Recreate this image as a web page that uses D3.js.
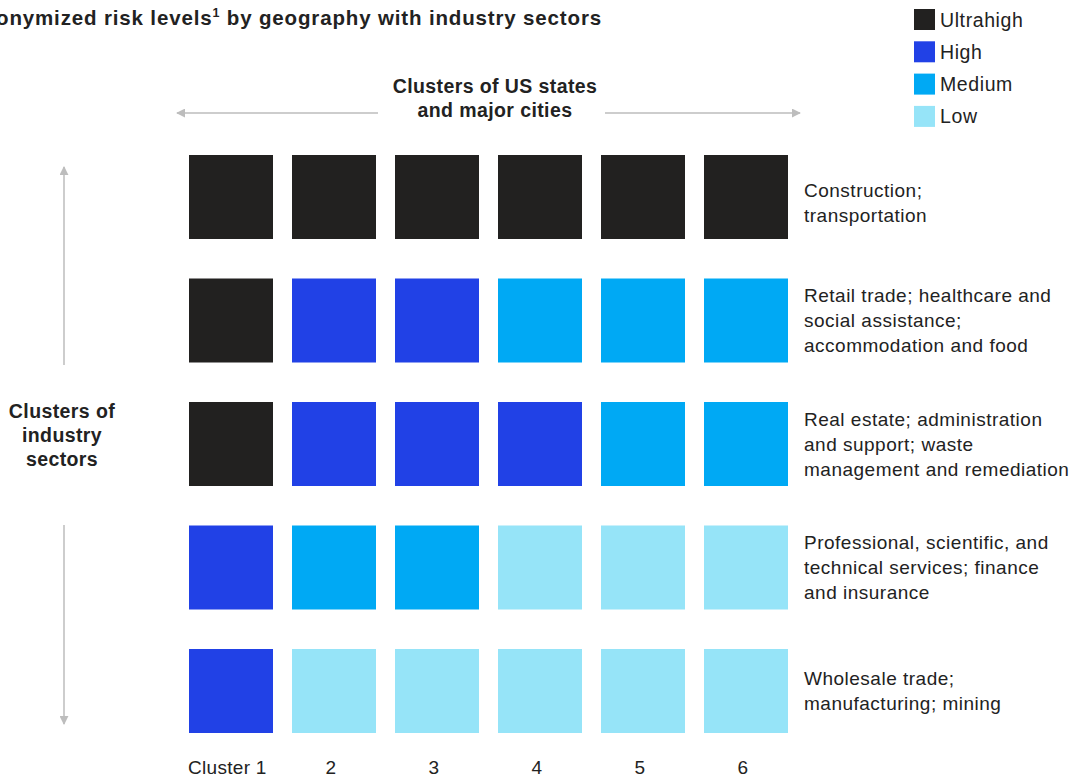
<!DOCTYPE html>
<html>
<head>
<meta charset="utf-8">
<script src="https://cdn.jsdelivr.net/npm/d3@7"></script>
<style>
  html, body { margin: 0; padding: 0; background: #fff; }
  svg { display: block; font-family: "Liberation Sans", Arial, sans-serif; }
</style>
</head>
<body>
<svg id="chart" width="1091" height="778"></svg>
<script>
// Geography clusters (columns) and industry-sector clusters (rows)
const geoClusters = ["Cluster 1", "2", "3", "4", "5", "6"];
const sectorClusters = [
  ["Construction;", "transportation"],
  ["Retail trade; healthcare and", "social assistance;", "accommodation and food"],
  ["Real estate; administration", "and support; waste", "management and remediation"],
  ["Professional, scientific, and", "technical services; finance", "and insurance"],
  ["Wholesale trade;", "manufacturing; mining"]
];

// Risk level per sector cluster (row) across geography clusters 1–6
const riskConstruction = ["Ultrahigh", "Ultrahigh", "Ultrahigh", "Ultrahigh", "Ultrahigh", "Ultrahigh"];
const riskRetail       = ["Ultrahigh", "High", "High", "Medium", "Medium", "Medium"];
const riskRealEstate   = ["Ultrahigh", "High", "High", "High", "Medium", "Medium"];
const riskProfessional = ["High", "Medium", "Medium", "Low", "Low", "Low"];
const riskWholesale    = ["High", "Low", "Low", "Low", "Low", "Low"];
const riskRows = [riskConstruction, riskRetail, riskRealEstate, riskProfessional, riskWholesale];

const riskLevels = ["Ultrahigh", "High", "Medium", "Low"];
const riskColors = ["#222120", "#2141e6", "#00a9f4", "#96e4f8"];

const svg = d3.select("#chart");
const ink = "#222222";
const arrowGray = "#bdbdbd";

const color = d3.scaleOrdinal().domain(riskLevels).range(riskColors);

const x = d3.scaleBand()
  .domain(d3.range(geoClusters.length))
  .range([189, 788])
  .paddingInner(19 / 103);

const y = d3.scaleBand()
  .domain(d3.range(sectorClusters.length))
  .range([155, 733])
  .paddingInner(39.5 / 123.5);

// Title (runs off the left edge of the canvas)
const title = svg.append("text")
  .attr("x", 602).attr("y", 25)
  .attr("text-anchor", "end")
  .attr("font-size", 20.5)
  .attr("font-weight", "bold")
  .attr("letter-spacing", 0.85)
  .attr("fill", ink);
title.append("tspan").text("Anonymized risk levels");
title.append("tspan").attr("font-size", 12.5).attr("dy", -8).text("1");
title.append("tspan").attr("dy", 8).text(" by geography with industry sectors");

// Arrowhead markers
const defs = svg.append("defs");
defs.append("marker")
  .attr("id", "arrow")
  .attr("viewBox", "0 0 10 10")
  .attr("refX", 9).attr("refY", 5)
  .attr("markerWidth", 9).attr("markerHeight", 9)
  .attr("markerUnits", "userSpaceOnUse")
  .attr("orient", "auto-start-reverse")
  .append("path")
  .attr("d", "M0,0 L10,5 L0,10 Z")
  .attr("fill", arrowGray);

// Horizontal axis title with arrows
const topMid = 495;
svg.append("text")
  .attr("x", topMid).attr("y", 93)
  .attr("text-anchor", "middle")
  .attr("font-size", 19.5).attr("font-weight", "bold")
  .attr("letter-spacing", 0.4).attr("fill", ink)
  .selectAll("tspan")
  .data(["Clusters of US states", "and major cities"])
  .join("tspan")
  .attr("x", topMid)
  .attr("dy", (d, i) => i === 0 ? 0 : 24)
  .text(d => d);

svg.append("line")
  .attr("x1", 378).attr("x2", 177).attr("y1", 113).attr("y2", 113)
  .attr("stroke", arrowGray).attr("stroke-width", 1.5)
  .attr("marker-end", "url(#arrow)");
svg.append("line")
  .attr("x1", 605).attr("x2", 800).attr("y1", 113).attr("y2", 113)
  .attr("stroke", arrowGray).attr("stroke-width", 1.5)
  .attr("marker-end", "url(#arrow)");

// Vertical axis title with arrows
svg.append("text")
  .attr("x", 62).attr("y", 418)
  .attr("text-anchor", "middle")
  .attr("font-size", 19.5).attr("font-weight", "bold")
  .attr("letter-spacing", 0.4).attr("fill", ink)
  .selectAll("tspan")
  .data(["Clusters of", "industry", "sectors"])
  .join("tspan")
  .attr("x", 62)
  .attr("dy", (d, i) => i === 0 ? 0 : 24)
  .text(d => d);

svg.append("line")
  .attr("x1", 64).attr("x2", 64).attr("y1", 365).attr("y2", 167)
  .attr("stroke", arrowGray).attr("stroke-width", 1.5)
  .attr("marker-end", "url(#arrow)");
svg.append("line")
  .attr("x1", 64).attr("x2", 64).attr("y1", 525).attr("y2", 724)
  .attr("stroke", arrowGray).attr("stroke-width", 1.5)
  .attr("marker-end", "url(#arrow)");

// Grid of risk squares
const cells = riskRows.flatMap((row, r) => row.map((level, c) => ({ r, c, level })));
svg.append("g")
  .selectAll("rect")
  .data(cells)
  .join("rect")
  .attr("x", d => x(d.c))
  .attr("y", d => y(d.r))
  .attr("width", x.bandwidth())
  .attr("height", y.bandwidth())
  .attr("fill", d => color(d.level));

// Sector labels to the right of each row (two-line blocks sit slightly low)
const lineH = 25;
svg.append("g")
  .selectAll("text")
  .data(sectorClusters)
  .join("text")
  .attr("font-size", 19)
  .attr("letter-spacing", 0.5)
  .attr("fill", ink)
  .each(function(lines, i) {
    const cy = y(i) + y.bandwidth() / 2;
    const shift = i === 0 ? 6 : 0;
    const first = cy - (lines.length - 1) * lineH / 2 + 6.5 + shift;
    d3.select(this).selectAll("tspan")
      .data(lines)
      .join("tspan")
      .attr("x", 804)
      .attr("y", (d, j) => first + j * lineH)
      .text(d => d);
  });

// Column labels along the bottom
svg.append("g")
  .selectAll("text")
  .data(geoClusters)
  .join("text")
  .attr("x", (d, i) => i === 0 ? x(i) - 1 : x(i) + x.bandwidth() / 2 - 3)
  .attr("y", 774)
  .attr("text-anchor", (d, i) => i === 0 ? "start" : "middle")
  .attr("font-size", 19)
  .attr("letter-spacing", 0.3)
  .attr("fill", ink)
  .text(d => d);

// Legend
const legend = svg.append("g")
  .selectAll("g")
  .data(riskLevels)
  .join("g")
  .attr("transform", (d, i) => `translate(914, ${9 + i * 32.3})`);
legend.append("rect")
  .attr("width", 21).attr("height", 21)
  .attr("fill", d => color(d));
legend.append("text")
  .attr("x", 26).attr("y", 17.5)
  .attr("font-size", 19.5)
  .attr("letter-spacing", 0.6)
  .attr("fill", ink)
  .text(d => d);
</script>
</body>
</html>
